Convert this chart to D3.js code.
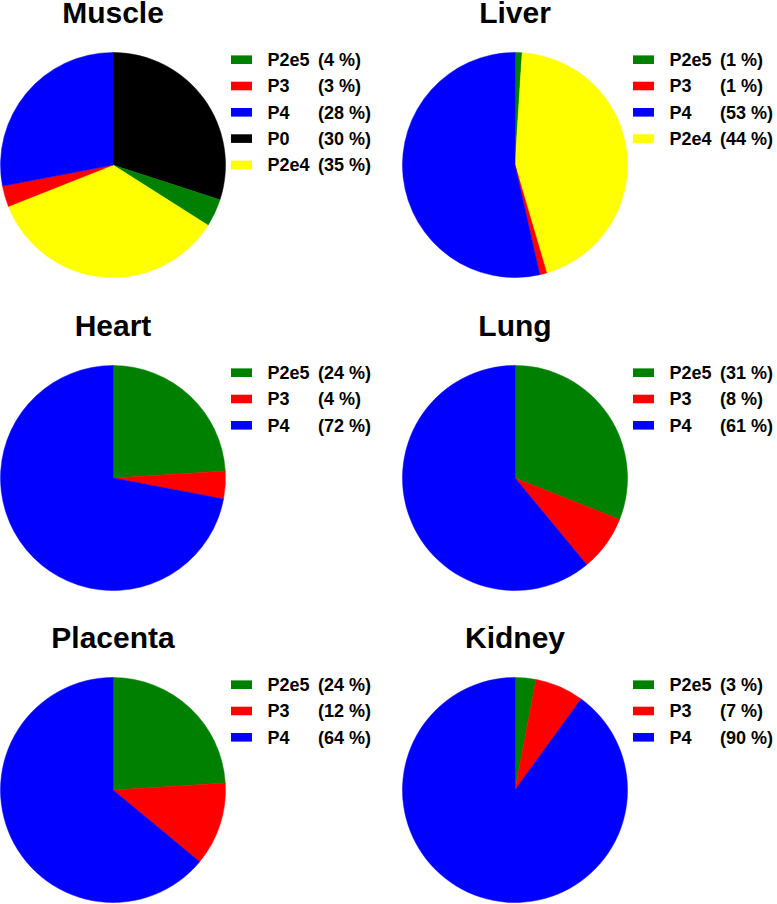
<!DOCTYPE html>
<html>
<head>
<meta charset="utf-8">
<script src="https://cdn.jsdelivr.net/npm/d3@7"></script>
<style>
  html, body { margin: 0; padding: 0; background: #fff; }
  svg { display: block; }
  text { font-family: "Liberation Sans", Arial, Helvetica, sans-serif; font-weight: bold; fill: #000; }
</style>
</head>
<body>
<svg id="chart" width="777" height="904"></svg>
<script>
// ---- data ----
const tissues = ["Muscle", "Liver", "Heart", "Lung", "Placenta", "Kidney"];

// legend order (as listed) and values in percent
const muscleCats = ["P2e5", "P3", "P4", "P0", "P2e4"];
const muscleVals = [4, 3, 28, 30, 35];
const muscleSliceOrder = ["P0", "P2e5", "P2e4", "P3", "P4"];

const liverCats = ["P2e5", "P3", "P4", "P2e4"];
const liverVals = [1, 1, 53, 44];
const liverSliceOrder = ["P2e5", "P2e4", "P3", "P4"];

const heartCats = ["P2e5", "P3", "P4"];
const heartVals = [24, 4, 72];

const lungCats = ["P2e5", "P3", "P4"];
const lungVals = [31, 8, 61];

const placentaCats = ["P2e5", "P3", "P4"];
const placentaVals = [24, 12, 64];

const kidneyCats = ["P2e5", "P3", "P4"];
const kidneyVals = [3, 7, 90];

const allCats = ["P2e5", "P3", "P4", "P0", "P2e4"];
const catColors = ["#008000", "#ff0000", "#0000ff", "#000000", "#ffff00"];

// ---- layout ----
const color = d3.scaleOrdinal().domain(allCats).range(catColors);
const colX = [113, 515];
const rowY = [165, 478, 790];
const radius = 112.5;

const panels = [
  { name: tissues[0], cats: muscleCats, vals: muscleVals, order: muscleSliceOrder },
  { name: tissues[1], cats: liverCats, vals: liverVals, order: liverSliceOrder },
  { name: tissues[2], cats: heartCats, vals: heartVals, order: heartCats },
  { name: tissues[3], cats: lungCats, vals: lungVals, order: lungCats },
  { name: tissues[4], cats: placentaCats, vals: placentaVals, order: placentaCats },
  { name: tissues[5], cats: kidneyCats, vals: kidneyVals, order: kidneyCats }
];

const svg = d3.select("#chart");
const pie = d3.pie().sort(null).value(d => d.value);
const arc = d3.arc().innerRadius(0).outerRadius(radius);

panels.forEach((p, i) => {
  const cx = colX[i % 2];
  const cy = rowY[Math.floor(i / 2)];
  const g = svg.append("g").attr("transform", `translate(${cx},${cy})`);

  const items = p.cats.map((c, k) => ({ cat: c, value: p.vals[k] }));
  const sliceData = p.order.map(c => items.find(d => d.cat === c));

  g.selectAll("path.slice")
    .data(pie(sliceData))
    .join("path")
    .attr("class", "slice")
    .attr("d", arc)
    .attr("fill", d => color(d.data.cat))
    .attr("stroke", d => color(d.data.cat))
    .attr("stroke-width", 0.5);

  g.append("text")
    .attr("x", 0)
    .attr("y", -142)
    .attr("text-anchor", "middle")
    .style("font-size", "30px")
    .text(p.name);

  const leg = g.selectAll("g.leg")
    .data(items)
    .join("g")
    .attr("class", "leg")
    .attr("transform", (d, k) => `translate(0,${-105.3 + k * 26.3})`);

  leg.append("rect")
    .attr("x", 118)
    .attr("y", -4.3)
    .attr("width", 21)
    .attr("height", 8.6)
    .attr("fill", d => color(d.cat));

  leg.append("text")
    .attr("x", 154.5)
    .attr("y", 6.4)
    .style("font-size", "18px")
    .text(d => d.cat);

  leg.append("text")
    .attr("x", 205)
    .attr("y", 6.4)
    .style("font-size", "18px")
    .text(d => `(${d.value} %)`);
});
</script>
</body>
</html>
